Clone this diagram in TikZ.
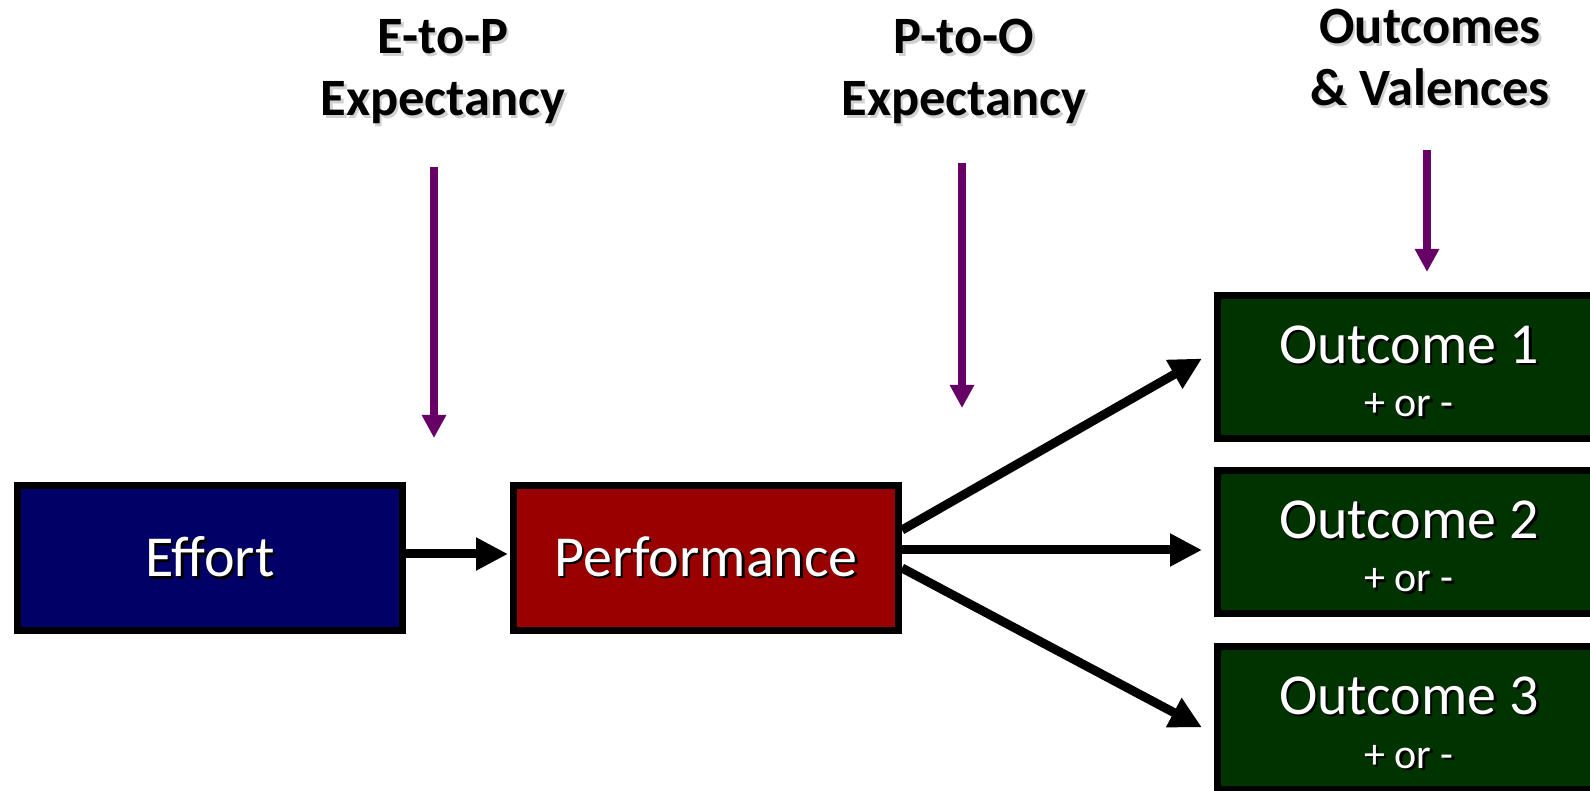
\documentclass[tikz,border=0pt]{standalone}
\usepackage{fontspec}
\setmainfont{Carlito}
\usetikzlibrary{arrows.meta,calc,positioning}

\definecolor{effortblue}{RGB}{0,0,102}
\definecolor{perfred}{RGB}{153,0,0}
\definecolor{outgreen}{RGB}{0,51,0}
\definecolor{expectpurple}{RGB}{102,0,102}

\newcommand{\shadowed}[2]{\rlap{\kern2.5pt\raisebox{-2.5pt}{\color{#1}#2}}#2}

\begin{document}
\begin{tikzpicture}[x=1pt,y=1pt]
    \tikzstyle{block} = [rectangle,draw=black,line width=7pt,minimum
    width=385pt,minimum height=145pt,inner sep=0pt,text=white,
    font=\fontsize{58}{69}\selectfont];
    \tikzstyle{outbox} = [block,fill=outgreen,minimum width=383pt,minimum
    height=143pt];
    \tikzstyle{heading} = [align=center,inner sep=0pt,
    font=\bfseries\fontsize{52.5}{62}\selectfont];
    \tikzstyle{outtitle} = [anchor=base,inner sep=0pt,text=white,
    font=\fontsize{58}{69}\selectfont];
    \tikzstyle{sign} = [anchor=base,inner sep=0pt,text=white,
    font=\fontsize{42}{50}\selectfont];
    \tikzstyle{link} = [black,line width=9pt,-{Triangle[length=32pt,width=31pt]}];
    \tikzstyle{expect} = [expectpurple,line width=8pt,-{Triangle[length=23pt,width=23pt]}];

    \clip (0,0) rectangle (1590,790);

    \node[block,name=effort,fill=effortblue] at (210,232) {\shadowed{black}{Effort}};
    \node[block,name=perf,fill=perfred,right=104pt of effort] {\shadowed{black}{Performance}};

    \node[outbox,name=out2] at (1409,248) {};
    \node[outbox,name=out1,above=25pt of out2] {};
    \node[outbox,name=out3,below=26pt of out2] {};

    \node[outtitle] at ($(out1.center)+(0,3.5)$) {\shadowed{black}{Outcome 1}};
    \node[sign] at ($(out1.center)+(0,-50)$) {\shadowed{black}{+ or -}};
    \node[outtitle] at ($(out2.center)+(0,3.5)$) {\shadowed{black}{Outcome 2}};
    \node[sign] at ($(out2.center)+(0,-50)$) {\shadowed{black}{+ or -}};
    \node[outtitle] at ($(out3.center)+(0,3.5)$) {\shadowed{black}{Outcome 3}};
    \node[sign] at ($(out3.center)+(0,-50)$) {\shadowed{black}{+ or -}};

    \node[heading,name=etop] at (443,717)
    {\shadowed{black!18}{E-to-P}\\\shadowed{black!18}{Expectancy}};
    \node[heading,name=ptop] at (964,717)
    {\shadowed{black!18}{P-to-O}\\\shadowed{black!18}{Expectancy}};
    \node[heading,name=otop] at (1430,731)
    {\shadowed{black!18}{Outcomes}\\\shadowed{black!18}{\& Valences}};

    \coordinate (eptip) at (434,352);
    \coordinate (potip) at (962,382);
    \coordinate (ovtip) at (1427,518);

    \path[draw,expect,shorten <=40pt] (etop.south -| eptip) -- (eptip);
    \path[draw,expect,shorten <=36pt] (ptop.south -| potip) -- (potip);
    \path[draw,expect,shorten <=41pt] (otop.south -| ovtip) -- (ovtip);

    \path ([yshift=4pt]effort.east) edge[link,shorten >=2pt] ([yshift=4pt]perf.west);
    \path ([yshift=28pt]perf.east) edge[link] ($(out1.west)+(-12,8.5)$);
    \path ([yshift=8pt]perf.east) edge[link] ($(out2.west)+(-12,-8)$);
    \path ([yshift=-10pt]perf.east) edge[link] ($(out3.west)+(-12,-9.5)$);

\end{tikzpicture}
\end{document}
